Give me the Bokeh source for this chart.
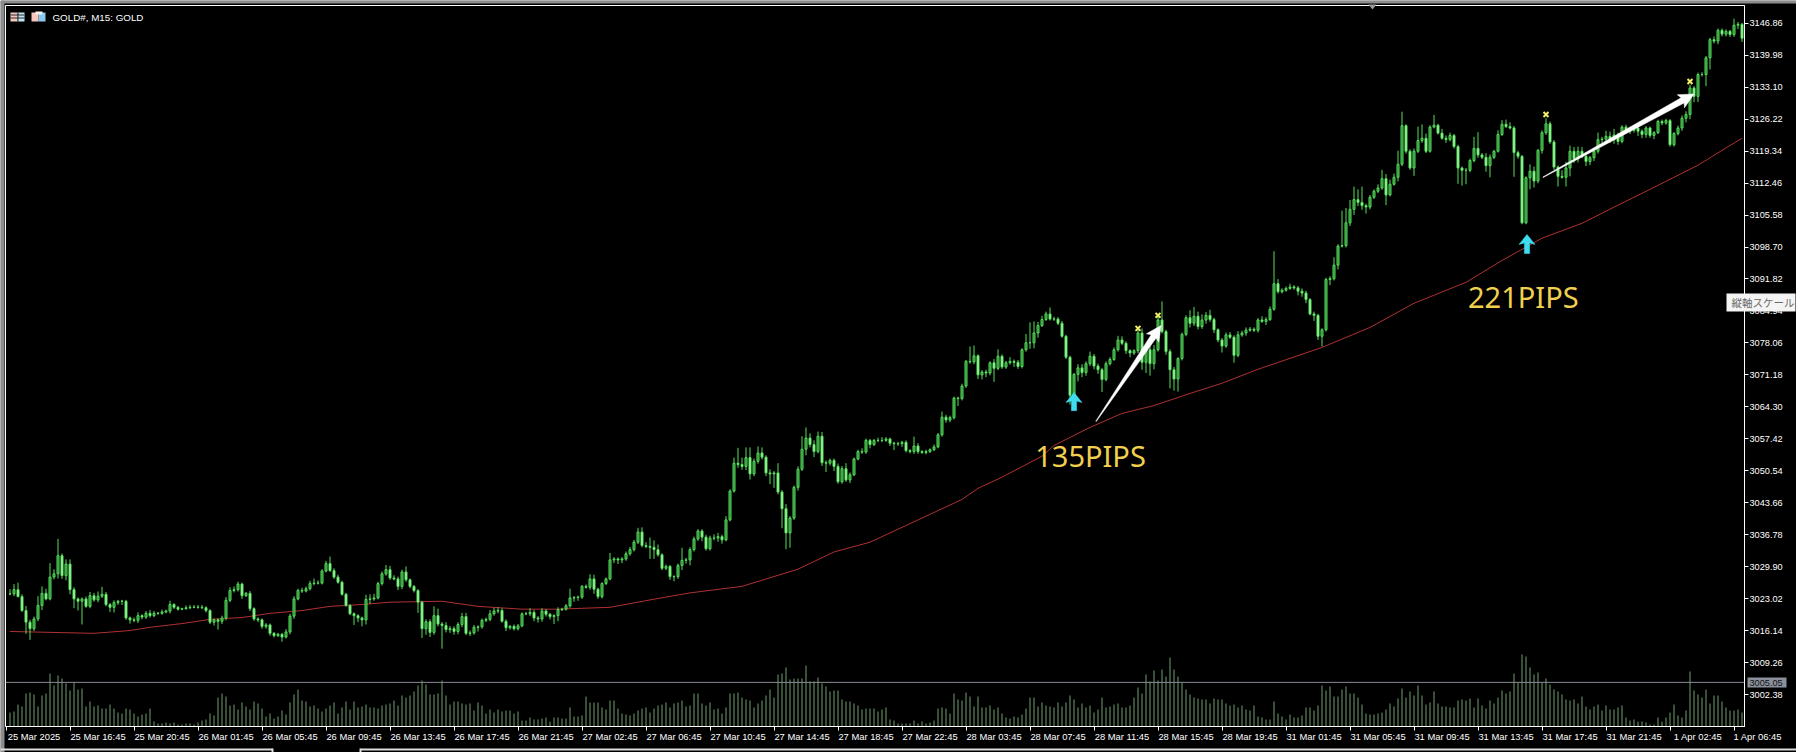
from bokeh.plotting import figure
from bokeh.embed import file_html
from bokeh.resources import INLINE
from bokeh.models import (Range1d, LinearAxis, FixedTicker, NumeralTickFormatter, Span, Label)
from bokeh.core.properties import value

symbol_title = "GOLD#, M15:  GOLD"
tooltip_text = "縦軸スケール"

price_ticks = [3146.86, 3139.98, 3133.10, 3126.22, 3119.34, 3112.46, 3105.58, 3098.70, 3091.82, 3084.94, 3078.06,
               3071.18, 3064.30, 3057.42, 3050.54, 3043.66, 3036.78, 3029.90, 3023.02, 3016.14, 3009.26, 3002.38]
time_labels = ["25 Mar 2025", "25 Mar 16:45", "25 Mar 20:45", "26 Mar 01:45", "26 Mar 05:45", "26 Mar 09:45",
               "26 Mar 13:45", "26 Mar 17:45", "26 Mar 21:45", "27 Mar 02:45", "27 Mar 06:45", "27 Mar 10:45",
               "27 Mar 14:45", "27 Mar 18:45", "27 Mar 22:45", "28 Mar 03:45", "28 Mar 07:45", "28 Mar 11:45",
               "28 Mar 15:45", "28 Mar 19:45", "31 Mar 01:45", "31 Mar 05:45", "31 Mar 09:45", "31 Mar 13:45",
               "31 Mar 17:45", "31 Mar 21:45", "1 Apr 02:45", "1 Apr 06:45"]
time_tick_bars = [-1, 15, 31, 47, 63, 79, 95, 111, 127, 143, 159, 175, 191, 207, 223, 239, 255, 271, 287, 303,
                  319, 335, 351, 367, 383, 399, 415, 431]

closes = [
3024.1,3025.0,3023.5,3020.5,3018.0,3016.6,3018.7,3021.6,3024.2,3023.0,
3027.7,3028.4,3032.3,3028.0,3030.5,3025.0,3023.0,3022.5,3023.0,3021.4,
3023.7,3022.8,3023.6,3024.0,3021.8,3021.2,3022.2,3022.5,3022.5,3018.9,
3018.5,3018.4,3019.4,3019.1,3019.9,3019.4,3019.9,3019.9,3020.2,3020.4,
3021.8,3021.2,3020.8,3020.9,3021.1,3021.2,3021.2,3021.2,3021.1,3020.5,
3018.0,3018.5,3018.2,3018.9,3022.7,3024.8,3025.0,3026.2,3023.7,3024.2,
3020.9,3018.7,3018.5,3017.1,3017.4,3015.6,3015.1,3015.4,3014.8,3015.9,
3019.3,3023.0,3024.8,3024.7,3025.2,3026.3,3026.4,3026.4,3029.0,3030.6,
3029.1,3027.7,3026.6,3024.0,3021.6,3019.8,3019.4,3018.9,3018.5,3022.9,
3023.0,3023.2,3026.3,3028.4,3029.3,3027.5,3027.3,3025.7,3028.8,3027.1,
3025.7,3024.8,3022.3,3016.6,3018.1,3015.8,3019.4,3017.6,3017.3,3016.4,
3016.6,3016.0,3017.5,3019.2,3015.6,3015.7,3016.9,3017.0,3018.4,3018.6,
3019.8,3020.4,3020.5,3018.2,3016.8,3017.1,3016.6,3017.2,3019.8,3019.8,
3020.1,3018.9,3018.7,3020.4,3019.7,3019.2,3019.4,3020.7,3020.8,3021.5,
3023.2,3023.3,3023.4,3025.7,3025.5,3027.3,3025.1,3023.5,3026.3,3027.3,
3031.4,3031.6,3031.4,3031.6,3032.7,3033.6,3035.2,3037.4,3034.5,3034.3,
3034.1,3033.6,3032.5,3029.6,3030.0,3027.8,3027.8,3030.2,3031.3,3031.4,
3033.6,3035.9,3037.6,3036.3,3033.8,3036.1,3036.1,3036.4,3035.7,3040.0,
3046.2,3052.2,3051.9,3051.5,3053.4,3049.9,3052.6,3054.4,3053.5,3050.1,
3049.9,3050.1,3046.0,3042.4,3037.2,3040.4,3047.0,3050.9,3055.2,3057.6,
3056.2,3054.7,3058.0,3052.3,3052.2,3052.8,3051.5,3048.2,3051.0,3048.6,
3049.7,3053.1,3054.7,3054.6,3057.1,3056.2,3057.1,3057.1,3057.1,3057.4,
3056.5,3056.4,3056.4,3056.7,3054.9,3054.7,3055.9,3054.7,3054.5,3054.7,
3055.1,3055.7,3058.3,3062.1,3061.5,3062.0,3066.2,3066.1,3068.8,3074.1,
3074.0,3075.3,3071.2,3071.8,3071.6,3073.8,3072.6,3075.2,3072.9,3073.8,
3074.1,3073.9,3073.0,3076.6,3078.1,3078.1,3080.2,3081.8,3083.1,3084.3,
3083.2,3083.2,3082.3,3079.5,3075.0,3066.8,3071.3,3072.7,3071.7,3073.6,
3075.2,3073.1,3072.3,3070.2,3073.6,3074.5,3076.6,3078.7,3078.0,3076.4,
3075.9,3076.4,3080.2,3073.9,3076.6,3073.6,3076.6,3083.0,3080.5,3076.2,
3072.3,3070.3,3074.7,3079.9,3083.5,3082.3,3083.8,3081.6,3083.0,3084.0,
3083.1,3080.9,3078.7,3077.4,3079.8,3079.3,3075.4,3079.8,3080.2,3080.8,
3081.0,3080.8,3083.0,3082.7,3083.1,3085.3,3090.8,3089.1,3089.4,3089.8,
3090.1,3089.9,3089.2,3088.8,3087.4,3084.3,3084.0,3079.5,3080.9,3091.7,
3091.9,3094.8,3098.9,3099.0,3103.9,3106.8,3108.9,3108.3,3107.6,3107.3,
3109.4,3110.7,3111.4,3113.4,3109.9,3112.2,3113.7,3116.5,3124.8,3119.3,
3115.7,3119.3,3121.6,3122.1,3119.3,3124.5,3124.9,3123.2,3122.1,3121.8,
3122.7,3120.3,3115.7,3115.2,3115.2,3117.3,3119.9,3118.5,3118.0,3116.2,
3118.0,3119.3,3122.9,3125.1,3124.6,3124.3,3119.0,3118.2,3103.9,3113.6,
3115.0,3112.9,3119.5,3123.3,3125.2,3121.3,3115.9,3113.9,3113.7,3115.7,
3119.3,3117.7,3119.3,3118.2,3117.1,3117.9,3119.3,3121.8,3121.9,3122.5,
3121.8,3122.8,3121.4,3124.5,3123.6,3123.8,3124.3,3123.6,3122.9,3124.3,
3122.7,3123.3,3125.7,3125.4,3125.9,3120.7,3123.1,3124.3,3126.4,3127.2,
3132.9,3131.1,3135.8,3135.8,3139.4,3143.3,3143.0,3145.3,3144.5,3145.1,
3144.4,3146.4,3146.6,3143.6]

upper_wicks = [
1.0,1.2,1.5,.5,1.0,.5,.5,2.0,1.5,1.0,
3.0,1.0,3.6,.5,1.0,1.0,.5,.3,.3,.5,
.8,.6,1.0,1.6,.5,.3,.5,.3,.3,.3,
.3,.5,.7,.3,.5,.7,.5,.3,.5,.3,
.8,.3,.3,.2,.5,.5,.5,.5,.5,.3,
.3,.3,.3,.5,.7,.7,.7,.5,.3,.3,
.5,.3,.3,.3,.4,.3,.3,.3,.3,.6,
.5,.6,.4,.6,.5,.6,1.0,.6,.4,.6,
1.5,.5,.5,.3,.3,.3,.3,.3,.3,1.0,
1.0,.9,.4,.5,1.0,.8,.6,.5,.5,1.2,
.3,.3,.3,.3,.5,.5,2.0,1.5,.4,.7,
.6,.5,.5,.8,.8,.5,.5,.3,.4,.4,
.8,.7,.7,.5,.4,.3,.4,.4,.3,.4,
.9,.5,.4,.6,.4,.3,.3,.5,.3,.4,
2.0,.3,.3,.3,.4,1.0,.9,.3,.3,.3,
1.5,.4,.3,.4,.5,.6,.5,.9,1.0,.7,
1.9,1.5,1.1,.3,.4,.3,.3,.4,2.7,.4,
.5,.5,.4,.4,.5,.5,.8,.8,.4,.8,
.4,1.2,3.3,1.5,2.2,2.2,.6,1.4,1.2,.4,
.8,.4,2.1,.4,1.0,.4,.4,.6,2.8,2.3,
1.0,.9,1.0,.9,.5,.4,.4,.6,.6,1.2,
.5,.3,.4,.7,.4,.3,.3,.6,.7,.4,
.3,.3,.4,.3,.4,.3,2.0,.6,.3,.4,
.3,.5,.4,1.2,.5,.4,.3,.3,.5,.3,
3.2,2.2,.3,.4,.5,.3,.8,1.5,.4,.4,
.9,.4,.5,.3,1.9,4.4,2.5,.8,.8,.5,
1.4,.5,.4,.5,.3,.3,.3,.8,.8,.5,
1.0,.5,.5,.4,.5,.5,.5,.9,.8,.4,
.3,.3,1.0,1.0,1.0,1.0,1.0,.7,4.0,.4,
.5,.6,.3,.4,.5,1.6,2.0,1.0,1.2,.7,
1.2,.4,.3,.4,.5,.6,.4,.8,.5,.6,
.5,.4,.4,.8,.5,.6,7.0,1.0,.4,.4,
.7,.4,.4,.6,.5,.3,.5,.3,.3,.4,
.5,1.7,.4,7.5,3.2,2.0,2.8,2.2,3.4,.4,
.5,.4,.8,1.9,1.0,1.0,.8,2.9,3.0,.3,
.4,.6,3.0,3.0,1.0,.4,2.2,.3,.9,.6,
.6,.3,.4,.3,.5,.4,2.5,3.5,.4,.9,
.6,.3,.9,.9,1.0,.9,.4,.4,.3,.3,
1.5,1.0,.3,.5,1.2,.5,.4,.3,1.3,1.3,
1.2,.9,1.0,.9,.4,.4,.4,1.5,.5,1.2,
1.0,1.3,.5,.4,.5,.7,.5,.7,.4,.4,
.3,.3,.4,.4,.4,.3,.3,.5,.6,.7,
.7,.4,.4,.5,.4,.4,.7,.4,.4,.4,
.3,1.4,.5,.3]

lower_wicks = [
.3,.5,.2,.3,2.5,2.4,.5,.5,1.0,.3,
.3,.5,1.0,.7,1.0,1.0,2.0,2.0,5.0,.3,
.4,.4,.5,.4,.4,1.0,1.1,.5,.8,.4,
.8,.4,.6,.5,.4,.4,.3,.3,.3,.3,
.5,.4,.3,.2,.2,.3,.2,.3,.3,.4,
.4,.7,1.8,.6,.5,.4,.4,.4,.7,.3,
.5,.4,.5,.5,.5,.5,.4,.3,1.0,.3,
.5,.6,.3,.4,.3,.4,.4,.3,.3,.3,
.3,.4,.3,.3,.3,.3,2.0,.9,1.4,1.0,
1.0,.4,.3,.4,.4,.4,.3,.8,.6,.4,
.4,.4,2.3,2.0,1.3,1.0,.5,.5,5.0,.6,
.7,.7,.6,.6,.4,.6,.4,.9,.4,.4,
.4,.4,.5,.3,.7,.4,.4,.4,.3,.3,
.5,.7,.8,.6,.5,.6,1.6,1.2,.3,.3,
.4,.8,.7,.4,.3,.5,1.0,.5,.4,.3,
.3,.7,.9,.7,.4,.4,.4,.4,.4,.4,
2.5,2.0,.4,.4,.4,.7,1.0,.5,1.0,.7,
1.2,.4,.4,.9,.4,.4,.5,.8,.8,.3,
.3,.3,.7,.7,.8,1.2,.5,.5,.5,.7,
2.2,3.0,.5,4.2,3.5,3.2,.4,.7,.4,1.3,
.6,1.2,.4,.7,1.9,.5,1.0,.4,.4,.4,
.7,.3,.3,.4,.4,.8,.3,.4,.4,.3,
.6,1.4,.5,.7,.4,.4,.5,.5,.3,.4,
.3,.3,.3,.4,.6,.5,.4,1.6,.4,.4,
.4,.5,.9,1.0,.9,.5,2.9,.4,.4,.4,
.4,1.0,.5,.4,.4,1.3,1.2,1.0,.3,.3,
.3,.4,.4,.3,.4,2.0,.8,1.5,1.0,.7,
.5,.7,.9,2.7,.4,.4,.3,.4,.4,.7,
.9,.4,.5,1.6,2.3,2.6,1.2,.4,.4,.7,
4.0,2.5,2.7,.4,.4,.9,.6,.6,.5,.8,
.5,.7,.5,1.4,.4,.4,1.6,.4,.4,.6,
.3,.4,.5,.3,.8,.3,.3,.4,.4,.3,
.3,.4,.9,.8,.8,.3,1.2,.8,2.2,.4,
1.2,.4,.9,.3,.4,.7,1.2,.8,.9,1.4,
.5,.4,.4,.4,2.2,.3,.3,.9,.4,.5,
.4,1.7,.4,.5,.4,.3,.3,.3,.3,.7,
.4,.4,3.4,3.3,3.0,.4,.4,.6,.4,1.3,
2.5,.4,.3,.3,.3,.3,5.2,.5,.3,.3,
2.5,1.4,.5,.7,.5,.4,.6,2.2,.3,2.0,
1.8,.9,.8,.4,1.0,.8,.7,.5,.7,.5,
.7,.9,.7,.4,.4,.6,.5,1.0,.8,.7,
.5,.8,.3,.5,.4,.4,.4,.4,.6,.9,
1.0,1.2,1.2,.4,2.5,2.5,.5,.7,.5,.5,
.5,.5,.8,.8]

volumes = [
14,15,22,20,33,34,32,20,31,33,53,41,51,48,43,36,44,37,38,20,
25,20,21,18,18,22,18,14,13,18,17,13,10,12,13,18,5,3,3,4,
3,4,2,2,3,3,2,4,6,7,13,11,29,33,30,21,22,17,24,20,
17,25,23,18,10,13,8,10,16,12,24,32,37,26,25,20,21,18,15,18,
21,24,13,19,25,17,25,19,20,22,19,19,18,21,22,23,26,21,31,29,
31,35,41,46,42,32,32,33,46,31,22,25,25,23,22,23,16,24,21,13,
17,14,17,
15,16,16,13,15,6,6,9,7,7,
8,9,5,9,9,8,8,19,10,10,
11,30,24,24,24,19,17,26,26,18,
13,12,11,13,16,18,19,14,18,21,
22,24,19,23,24,26,20,21,33,33,
23,21,24,17,18,13,19,33,33,34,
29,27,26,19,23,26,31,37,29,52,
53,59,47,48,48,48,61,45,45,49,
43,40,35,36,36,27,25,25,23,21,
17,18,18,18,15,17,19,7,6,3,
3,3,3,6,3,5,3,4,6,18,
19,18,13,33,27,26,34,30,20,30,
19,19,21,17,19,13,9,8,10,9,
12,18,29,29,20,24,21,20,19,24,
20,24,31,27,19,23,19,21,14,17,
29,19,20,22,23,19,19,21,29,39,
33,52,45,56,46,57,50,69,57,50,
44,37,32,29,28,27,27,23,28,27,
27,23,21,22,19,21,17,16,21,10,
9,7,7,25,13,10,7,12,9,9,
11,19,19,16,21,41,36,40,30,30,
37,40,33,33,29,22,13,12,12,13,
14,17,23,20,28,38,29,35,31,41,
31,22,24,35,23,20,20,19,19,26,
27,26,28,19,28,21,18,26,23,29,
36,33,35,53,44,72,70,59,52,54,44,48,42,37,35,32,27,26,27,23,
30,20,17,20,22,16,21,17,17,19,21,9,6,7,5,5,4,2,2,9,
5,9,14,22,11,9,16,55,36,32,29,37,23,31,31,25,19,16,16,17,14]

# moving average, read at its visible bends
ma_bars = [0,21,30,35,43,50,58,65,73,80,88,95,108,117,128,137,150,162,170,183,197,206,215,223,230,238,242,248,258,
           261,270,278,286,295,303,312,328,340,351,364,373,383,393,402,410,422,428,433]
ma_prices = [3016.0,3015.6,3016.2,3016.9,3017.7,3018.6,3019.0,3019.9,3020.5,3021.4,3021.8,3022.3,3022.5,3021.4,3020.8,
             3020.8,3021.2,3023.1,3024.3,3025.7,3029.4,3033.1,3035.2,3038.4,3041.2,3044.4,3046.8,3049.2,3053.7,
             3056.0,3059.9,3062.9,3064.6,3067.2,3069.4,3072.4,3077.1,3081.4,3086.6,3091.1,3095.8,3100.6,3103.8,
             3107.7,3111.1,3116.3,3119.5,3122.1]

current_volume_level = 3005.05
marker_bars = [282, 287, 384, 420]
marker_prices = [3081.2, 3084.0, 3127.2, 3134.3]
signal_bars = [266, 379.25]
signal_tails = [3063.5, 3097.3]
signal_tips = [3067.4, 3101.4]
trend_bars_from = [271.5, 383.25]
trend_prices_from = [3061.2, 3113.7]
trend_bars_to = [287.75, 421]
trend_prices_to = [3081.8, 3131.6]
note_texts = ["135PIPS", "221PIPS"]
note_bars = [256.3, 364.5]
note_prices = [3053.9, 3088.0]

GREEN = "#52e05a"
BEAR_FILL = "#c0f5bc"
BULL_FILL = "#2a7a30"
CYAN = "#3fdcef"

n = len(closes)
assert len(upper_wicks) == n and len(lower_wicks) == n and len(volumes) == n, (n, len(upper_wicks), len(lower_wicks), len(volumes))
bars = list(range(n))
opens = [closes[0]] + closes[:-1]
highs = [max(o, c) + u for o, c, u in zip(opens, closes, upper_wicks)]
lows = [min(o, c) - l for o, c, l in zip(opens, closes, lower_wicks)]

p = figure(width=1796, height=752, output_backend="svg", toolbar_location=None, tools="",
           x_range=Range1d(-1.125, 433.625), y_range=Range1d(2995.56, 3150.65),
           background_fill_color="black", border_fill_color="black",
           min_border_left=5, min_border_right=52, min_border_top=5, min_border_bottom=26,
           x_axis_location="below", y_axis_location="right")
p.grid.visible = False
p.outline_line_color = "white"
p.extra_y_ranges = {"vol": Range1d(0, 721)}

# axes
ya = p.yaxis[0]
ya.ticker = FixedTicker(ticks=price_ticks)
ya.formatter = NumeralTickFormatter(format="0.00")
ya.axis_line_color = "white"
ya.major_tick_line_color = "white"
ya.major_tick_in = 0
ya.major_tick_out = 4
ya.minor_tick_line_color = None
ya.major_label_text_color = "white"
ya.major_label_text_font = "Liberation Sans"
ya.major_label_text_font_size = "9.2px"
ya.major_label_standoff = 1

# bottom axis: one axis carries the tick marks, a second one the left-hung labels
xa = p.xaxis[0]
xa.ticker = FixedTicker(ticks=time_tick_bars)
xa.major_label_overrides = {t: "" for t in time_tick_bars}
xa.major_label_text_font_size = "1px"
xa.major_label_standoff = 0
xa.axis_line_color = "white"
xa.major_tick_line_color = "white"
xa.major_tick_in = 0
xa.major_tick_out = 4
xa.minor_tick_line_color = None

label_ticks = [t + 7 for t in time_tick_bars[:-1]]
xb = LinearAxis(ticker=FixedTicker(ticks=label_ticks),
                major_label_overrides=dict(zip(label_ticks, time_labels[:-1])),
                axis_line_color=None, major_tick_line_color=None, minor_tick_line_color=None,
                major_tick_in=0, major_tick_out=0, major_label_standoff=0,
                major_label_text_color="white", major_label_text_font="Liberation Sans",
                major_label_text_font_size="9.4px")
p.add_layout(xb, "below")

# volume
p.segment(bars, [0] * n, bars, volumes, y_range_name="vol", line_color="#6f9f6f", line_width=1)
p.add_layout(Span(location=current_volume_level, dimension="width", line_color="#8a8a98", line_width=1))

# moving average
p.line(ma_bars, ma_prices, line_color="#b03030", line_width=1)

# candles
p.segment(bars, lows, bars, highs, line_color=GREEN, line_width=1)
body_fill = [BULL_FILL if c >= o else BEAR_FILL for o, c in zip(opens, closes)]
p.vbar(x=bars, width=0.5, bottom=opens, top=closes, fill_color=body_fill, line_color=GREEN, line_width=1)

PX_X, PX_Y = 4.0, 4.649

def arrow_patch(x0, y0, x1, y1, profile, color):
    """Polygon along tail->tip; profile is (distance from tip in px, half width in px), tip to tail."""
    dx, dy = (x1 - x0) * PX_X, (y1 - y0) * PX_Y
    L = (dx * dx + dy * dy) ** 0.5
    ux, uy, nx, ny = dx / L, dy / L, -dy / L, dx / L
    pts = [(d if d >= 0 else L, w) for d, w in profile]
    side_a = [(x1 * PX_X - ux * d + nx * w, y1 * PX_Y - uy * d + ny * w) for d, w in pts]
    side_b = [(x1 * PX_X - ux * d - nx * w, y1 * PX_Y - uy * d - ny * w) for d, w in reversed(pts)]
    poly = side_a + side_b
    p.patch([q[0] / PX_X for q in poly], [q[1] / PX_Y for q in poly], fill_color=color, line_color=color, line_width=0.5)

# tapered white trend arrows
for x0, y0, x1, y1 in zip(trend_bars_from, trend_prices_from, trend_bars_to, trend_prices_to):
    arrow_patch(x0, y0, x1, y1, [(0, 0), (15, 7.5), (13, 3.0), (-1, 0.3)], "white")

# cyan signal arrows
for x, y0, y1 in zip(signal_bars, signal_tails, signal_tips):
    arrow_patch(x, y0, x, y1, [(0, 0), (10, 8), (8.5, 2.6), (-1, 2.6)], CYAN)

# yellow markers
p.scatter(marker_bars, marker_prices, marker="x", size=7, line_color="#f2ee6a", line_width=2)

# PIPS notes
for t, x, y in zip(note_texts, note_bars, note_prices):
    p.add_layout(Label(x=x, y=y, text=t, text_color="#f1d04f", text_font="Noto Sans", text_font_size="29px",
                       text_baseline="middle", text_align="left"))

# transparent full-window layer in window pixels for the terminal's chrome
win = figure(width=1796, height=752, output_backend="svg", toolbar_location=None, tools="",
             x_range=Range1d(0, 1796), y_range=Range1d(752, 0), x_axis_type=None, y_axis_type=None,
             background_fill_color=None, border_fill_color=None, outline_line_color=None,
             min_border=0, margin=(-752, 0, 0, 0))
win.grid.visible = False

def box(l, r, t, b, color):
    win.quad(left=[l], right=[r], top=[t], bottom=[b], fill_color=color, line_color=None)

def label(x, y, text, color, font, size, align="left"):
    win.text([x], [y], text=[text], text_color=color, text_font=value(font), text_font_size=size,
             text_baseline="middle", text_align=align)

box(0, 1796, 0, 3, "#8c8c8c")
box(0, 4, 0, 752, "#8c8c8c")
box(0, 272, 748, 750, "#dddddd")
box(360, 1796, 748, 750, "#dddddd")
box(271, 273, 748, 752, "#dddddd")
box(359, 361, 748, 752, "#dddddd")
# chart-header icons
box(10, 17, 12, 21, "#f6c8bd")
box(17, 24, 12, 21, "#bfe6f5")
box(10, 24, 14, 15, "#2a2a2a")
box(10, 24, 17, 18, "#2a2a2a")
box(17, 18, 12, 21, "#2a2a2a")
box(31, 38, 12, 21, "#f6c8bd")
box(38, 45, 12, 21, "#8cc9ef")
box(35, 42, 11, 14, "#f2f2f2")
win.patch([1368, 1376, 1372], [4, 4, 9], fill_color="#9a9a9a", line_color=None)
label(52, 16.5, symbol_title, "white", "Liberation Sans", "9.8px")
label(1733, 736, time_labels[-1], "white", "Liberation Sans", "9.4px")
# current-level tag
box(1747, 1786, 677, 687, "#8b909c")
label(1749, 682, f"{current_volume_level:.2f}", "#101010", "Liberation Sans", "9.2px")
# scale tooltip
box(1726, 1795, 293, 311, "#f4f4f4")
label(1731, 302, tooltip_text, "#6a6a6a", "Noto Sans CJK JP", "10.5px")

open("out.html", "w").write(file_html([p, win], INLINE))
